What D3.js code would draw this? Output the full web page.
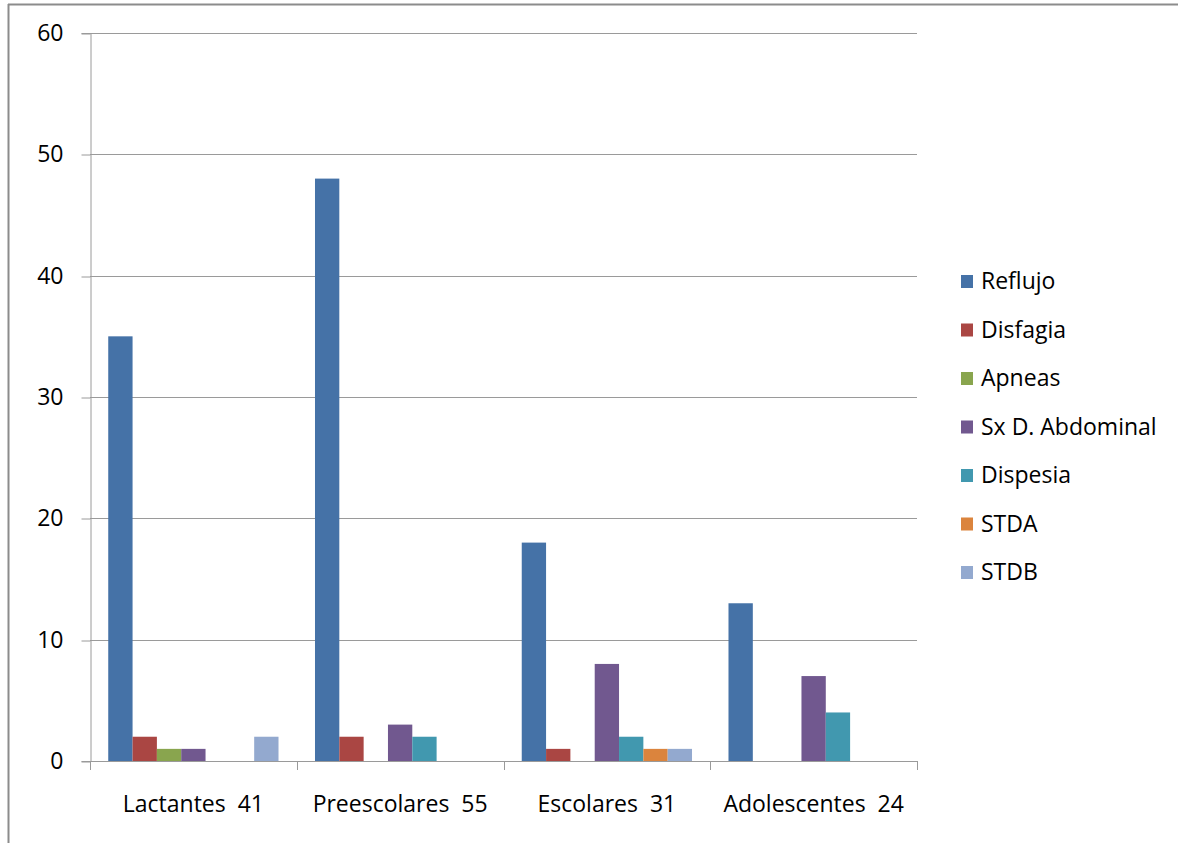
<!DOCTYPE html>
<html>
<head>
<meta charset="utf-8">
<script src="https://cdn.jsdelivr.net/npm/d3@7"></script>
<style>
  html, body { margin: 0; padding: 0; background: #fff; }
  svg text { font-family: "Open Sans", "Noto Sans", sans-serif; fill: #000; white-space: pre; }
</style>
</head>
<body>
<svg id="chart" width="1178" height="843"></svg>
<script>
// Age groups (with patient counts) and symptom series
const categories = ["Lactantes  41", "Preescolares  55", "Escolares  31", "Adolescentes  24"];
const seriesNames = ["Reflujo", "Disfagia", "Apneas", "Sx D. Abdominal", "Dispesia", "STDA", "STDB"];
const reflujo   = [35, 48, 18, 13];
const disfagia  = [2, 2, 1, 0];
const apneas    = [1, 0, 0, 0];
const sxAbdom   = [1, 3, 8, 7];
const dispesia  = [0, 2, 2, 4];
const stda      = [0, 0, 1, 0];
const stdb      = [2, 0, 1, 0];
const yTicks    = [0, 10, 20, 30, 40, 50, 60];
const colors    = ["#4572A7", "#AA4643", "#89A54E", "#71588F", "#4198AF", "#DB843D", "#93A9CF"];

const seriesValues = [reflujo, disfagia, apneas, sxAbdom, dispesia, stda, stdb];
const FONT = 23;

const svg = d3.select("#chart");

// outer frame (top and left edges)
svg.append("line").attr("x1", 8).attr("x2", 1178).attr("y1", 4.5).attr("y2", 4.5)
  .attr("stroke", "#8c8c8c").attr("stroke-width", 2);
svg.append("line").attr("x1", 8.5).attr("x2", 8.5).attr("y1", 4).attr("y2", 843)
  .attr("stroke", "#8c8c8c").attr("stroke-width", 2);

const plot = { left: 90, right: 917, top: 33, bottom: 761 };

const x0 = d3.scaleBand().domain(categories).range([plot.left, plot.right]).padding(0);
const barUnit = x0.bandwidth() / 8.5;
const x1 = d3.scaleBand().domain(seriesNames)
  .range([0.75 * barUnit, x0.bandwidth() - 0.75 * barUnit]).padding(0);
const y = d3.scaleLinear().domain([0, 60]).range([plot.bottom, plot.top]);

// horizontal gridlines
svg.append("g").selectAll("line").data(yTicks.filter(d => d > 0)).join("line")
  .attr("x1", plot.left).attr("x2", plot.right)
  .attr("y1", d => Math.round(y(d)) + 0.5).attr("y2", d => Math.round(y(d)) + 0.5)
  .attr("stroke", "#9a9a9a").attr("stroke-width", 1);

// bars
const groups = svg.append("g").selectAll("g").data(categories).join("g")
  .attr("transform", d => `translate(${x0(d)},0)`);
groups.selectAll("rect")
  .data((c, ci) => seriesNames.map((s, si) => ({ s, si, v: seriesValues[si][ci] })))
  .join("rect")
  .attr("x", d => x1(d.s))
  .attr("width", x1.bandwidth())
  .attr("y", d => y(d.v))
  .attr("height", d => y(0) - y(d.v))
  .attr("fill", d => colors[d.si]);

// y axis
const yAxis = svg.append("g").attr("transform", `translate(${plot.left + 0.5},0)`)
  .call(d3.axisLeft(y).tickValues(yTicks).tickSize(9).tickPadding(18));
yAxis.select(".domain").attr("stroke", "#9a9a9a");
yAxis.selectAll(".tick line").attr("stroke", "#9a9a9a")
  .attr("transform", (d) => `translate(0,${Math.round(y(d)) + 0.5 - y(d)})`);
yAxis.selectAll(".tick text").attr("font-size", FONT).attr("fill", "#000")
  .style("font-family", "'Open Sans', sans-serif");

// x axis baseline and category ticks
const xg = svg.append("g");
xg.append("line").attr("x1", plot.left).attr("x2", plot.right)
  .attr("y1", plot.bottom + 0.5).attr("y2", plot.bottom + 0.5).attr("stroke", "#9a9a9a");
const bounds = categories.map(c => x0(c)).concat([plot.right]);
xg.selectAll("line.tick").data(bounds).join("line").attr("class", "tick")
  .attr("x1", d => Math.round(d) + 0.5).attr("x2", d => Math.round(d) + 0.5)
  .attr("y1", plot.bottom).attr("y2", plot.bottom + 9).attr("stroke", "#9a9a9a");
xg.selectAll("text").data(categories).join("text")
  .attr("x", d => x0(d) + x0.bandwidth() / 2)
  .attr("y", 812)
  .attr("text-anchor", "middle")
  .attr("font-size", FONT)
  .text(d => d);

// legend
const legend = svg.append("g").attr("transform", "translate(961,281.5)");
const li = legend.selectAll("g").data(seriesNames).join("g")
  .attr("transform", (d, i) => `translate(0,${i * 48.5})`);
li.append("rect").attr("x", 0).attr("y", -6.5).attr("width", 12).attr("height", 13)
  .attr("fill", (d, i) => colors[i]);
li.append("text").attr("x", 20).attr("y", 7.5).attr("font-size", FONT).text(d => d);
</script>
</body>
</html>
